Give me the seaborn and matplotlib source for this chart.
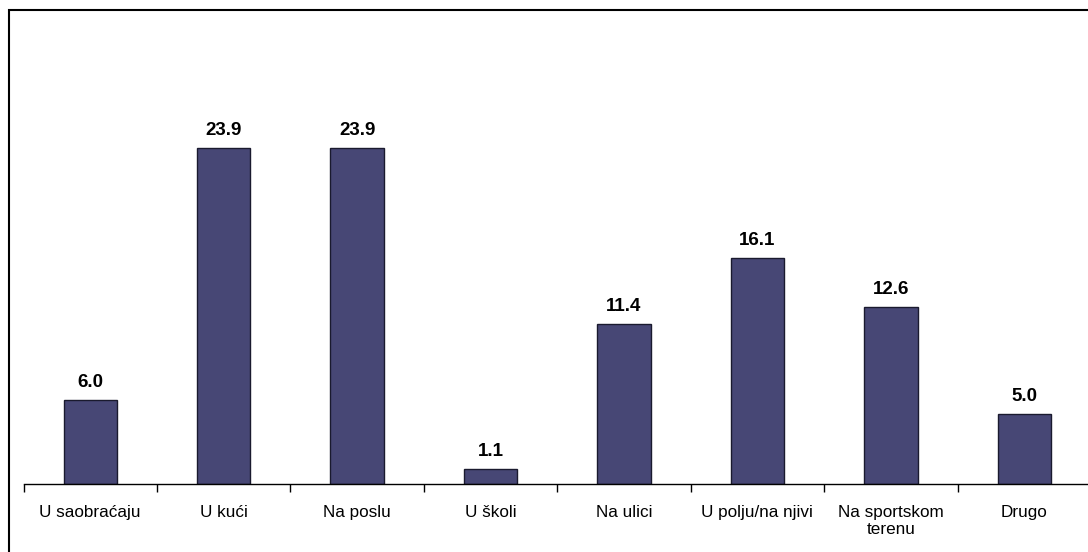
import matplotlib
matplotlib.use("Agg")
import matplotlib.pyplot as plt
import seaborn as sns
import pandas as pd
from matplotlib.patches import Rectangle
from matplotlib.ticker import FixedLocator

# data
categories = ["U saobraćaju", "U kući", "Na poslu", "U školi", "Na ulici",
              "U polju/na njivi", "Na sportskom\nterenu", "Drugo"]
values = [6.0, 23.9, 23.9, 1.1, 11.4, 16.1, 12.6, 5.0]

df = pd.DataFrame({"mjesto": categories, "procenat": values})

sns.set_style("white")
plt.rcParams['font.family'] = ['Liberation Sans', 'DejaVu Sans']
plt.rcParams['text.color'] = 'black'
plt.rcParams['xtick.color'] = 'black'

fig = plt.figure(figsize=(10.88, 5.52), dpi=100)
# axes extend a little past the right edge, like the cropped original
ax = fig.add_axes([23.5 / 1088, 1 - 484 / 552, (1091 - 23.5) / 1088, (484 - 62) / 552])

sns.barplot(data=df, x="mjesto", y="procenat", color="#474775", width=0.4,
            edgecolor="#1a1a2e", linewidth=1.0, saturation=1, ax=ax)

for c in ax.containers:
    ax.bar_label(c, fmt="%.1f", padding=6, fontsize=13.5, fontweight="bold", color="black")

ax.set_xlim(-0.5, len(categories) - 0.5)
ax.set_ylim(0, 30)
ax.set_xlabel("")
ax.set_ylabel("")
ax.set_yticks([])
for s in ["top", "right", "left"]:
    ax.spines[s].set_visible(False)
ax.spines["bottom"].set_color("#000000")
ax.spines["bottom"].set_linewidth(1.0)

ax.tick_params(axis="x", which="major", length=0, pad=15, labelsize=12.3, labelcolor="black")
ax.xaxis.set_minor_locator(FixedLocator([i - 0.5 for i in range(len(categories) + 1)]))
ax.tick_params(axis="x", which="minor", length=6, width=1, color="#000000", direction="out", bottom=True)

# outer frame around the whole chart
fig.patches.append(Rectangle((9 / 1088, -0.05), 1.1, 1 - 10 / 552 + 0.05,
                             transform=fig.transFigure, fill=False,
                             edgecolor="#000000", linewidth=1.5))

fig.savefig("out.png", dpi=100)
